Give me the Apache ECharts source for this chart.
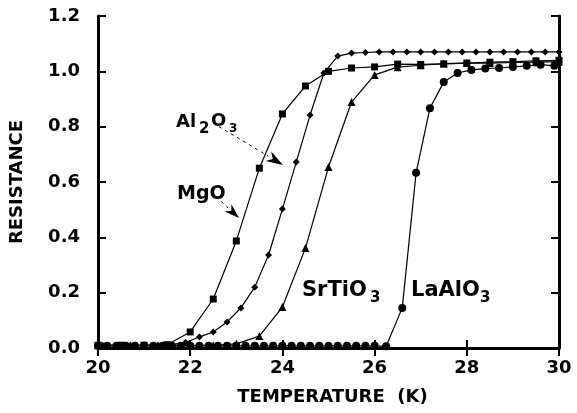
<!DOCTYPE html>
<html>
<head>
<meta charset="utf-8">
<script src="https://cdn.jsdelivr.net/npm/echarts@6/dist/echarts.min.js"></script>
<style>
html,body{margin:0;padding:0;background:#fff;}
#chart{width:577px;height:413px;}
</style>
</head>
<body>
<div id="chart"></div>
<script>
// ---- data ----
const xTicks = [20, 22, 24, 26, 28, 30];
const yTicks = [0.0, 0.2, 0.4, 0.6, 0.8, 1.0, 1.2];

// Squares (Al2O3 / MgO curve)
const sqT = [20.0, 20.5, 21.0, 21.5, 22.0, 22.5, 23.0, 23.5, 24.0, 24.5, 25.0, 25.5, 26.0, 26.5, 27.0, 27.5, 28.0, 28.5, 29.0, 29.5, 30.0];
const sqR = [0.010, 0.010, 0.010, 0.012, 0.058, 0.177, 0.387, 0.650, 0.846, 0.947, 1.000, 1.012, 1.016, 1.026, 1.025, 1.027, 1.030, 1.033, 1.035, 1.038, 1.040];

// Diamonds
const diT = [20.1, 20.4, 20.7, 21.0, 21.3, 21.6, 21.9, 22.2, 22.5, 22.8, 23.1, 23.4, 23.7, 24.0, 24.3, 24.6, 24.9, 25.2, 25.5, 25.8, 26.1, 26.4, 26.7, 27.0, 27.3, 27.6, 27.9, 28.2, 28.5, 28.8, 29.1, 29.4, 29.7, 30.0];
const diR = [0.010, 0.010, 0.010, 0.010, 0.010, 0.012, 0.020, 0.040, 0.058, 0.094, 0.145, 0.220, 0.336, 0.502, 0.672, 0.842, 0.994, 1.055, 1.066, 1.068, 1.070, 1.070, 1.070, 1.070, 1.070, 1.070, 1.070, 1.070, 1.070, 1.070, 1.070, 1.070, 1.070, 1.070];

// Triangles (SrTiO3)
const trT = [20.0, 20.5, 21.0, 21.5, 22.0, 22.5, 23.0, 23.5, 24.0, 24.5, 25.0, 25.5, 26.0, 26.5, 27.0, 27.5, 28.0, 28.5, 29.0, 29.5, 30.0];
const trR = [0.010, 0.010, 0.010, 0.010, 0.010, 0.010, 0.015, 0.043, 0.148, 0.361, 0.654, 0.889, 0.987, 1.015, 1.022, 1.028, 1.030, 1.030, 1.032, 1.033, 1.035];

// Circles (LaAlO3)
const ciT = [20.0, 20.2, 20.4, 20.6, 20.8, 21.0, 21.2, 21.4, 21.6, 21.8, 22.0, 22.2, 22.4, 22.6, 22.8, 23.0, 23.2, 23.4, 23.6, 23.8, 24.0, 24.2, 24.4, 24.6, 24.8, 25.0, 25.2, 25.4, 25.6, 25.8, 26.0, 26.25, 26.6, 26.9, 27.2, 27.5, 27.8, 28.1, 28.4, 28.7, 29.0, 29.3, 29.6, 29.9];
const ciR = [0.008, 0.008, 0.008, 0.008, 0.008, 0.008, 0.008, 0.008, 0.008, 0.008, 0.008, 0.008, 0.008, 0.008, 0.008, 0.008, 0.008, 0.008, 0.008, 0.008, 0.008, 0.008, 0.008, 0.008, 0.008, 0.008, 0.008, 0.008, 0.008, 0.008, 0.008, 0.006, 0.145, 0.633, 0.867, 0.961, 0.994, 1.005, 1.010, 1.012, 1.016, 1.020, 1.024, 1.020];

const FONT = '"DejaVu Sans", sans-serif';
const pairs = (t, r) => t.map((v, i) => [v, r[i]]);

const chart = echarts.init(document.getElementById('chart'), null, {renderer: 'canvas'});

function lineSeries(name, t, r, symbol, size) {
  return {
    name: name, type: 'line', data: pairs(t, r),
    xAxisIndex: 0, yAxisIndex: 0,
    symbol: symbol, symbolSize: size, showSymbol: true,
    lineStyle: {color: '#000', width: 1.2},
    itemStyle: {color: '#000', borderWidth: 0},
    animation: false, clip: false, z: 3
  };
}

const axisCommon = {
  type: 'value',
  axisLine: {show: true, lineStyle: {color: '#000', width: 3}},
  axisTick: {show: true, inside: true, length: 8, lineStyle: {color: '#000', width: 2}},
  splitLine: {show: false}
};

chart.setOption({
  backgroundColor: '#fff',
  animation: false,
  grid: {left: 97, right: 18, top: 16, bottom: 65, containLabel: false},
  xAxis: [
    Object.assign({}, axisCommon, {
      position: 'bottom', min: xTicks[0], max: xTicks[xTicks.length - 1], interval: 2,
      axisLabel: {show: true, margin: 11, color: '#000', fontFamily: FONT, fontWeight: 'bold', fontSize: 18},
      name: 'TEMPERATURE  (K)', nameLocation: 'middle', nameGap: 40,
      nameTextStyle: {color: '#000', fontFamily: FONT, fontWeight: 'bold', fontSize: 18, padding: [0, 0, 0, 8]}
    }),
    Object.assign({}, axisCommon, {
      position: 'top', min: xTicks[0], max: xTicks[xTicks.length - 1], interval: 2,
      axisLine: {show: true, lineStyle: {color: '#000', width: 2}},
      axisLabel: {show: false}
    })
  ],
  yAxis: [
    Object.assign({}, axisCommon, {
      position: 'left', min: yTicks[0], max: yTicks[yTicks.length - 1], interval: 0.2,
      axisLabel: {show: true, margin: 18, color: '#000', fontFamily: FONT, fontWeight: 'bold', fontSize: 18,
        formatter: v => v.toFixed(1)},
      name: 'RESISTANCE', nameLocation: 'middle', nameGap: 72, nameRotate: 90,
      nameTextStyle: {color: '#000', fontFamily: FONT, fontWeight: 'bold', fontSize: 18}
    }),
    Object.assign({}, axisCommon, {
      position: 'right', min: yTicks[0], max: yTicks[yTicks.length - 1], interval: 0.2,
      axisLabel: {show: false}
    })
  ],
  series: [
    lineSeries('Al2O3', sqT, sqR, 'rect', 7),
    lineSeries('diamond', diT, diR, 'diamond', 7),
    lineSeries('SrTiO3', trT, trR, 'triangle', 8),
    lineSeries('LaAlO3', ciT, ciR, 'circle', 8)
  ]
});

// ---- annotations (text labels and arrows) ----
function txt(x, y, s, size) {
  return {type: 'text', x: x, y: y, z: 10,
    style: {text: s, fill: '#000', font: 'bold ' + size + 'px ' + FONT, textVerticalAlign: 'alphabetic', textAlign: 'left'}};
}
function arrow(x0, y0, x1, y1, len, wid) {
  const dx = x1 - x0, dy = y1 - y0, L = Math.hypot(dx, dy);
  const ux = dx / L, uy = dy / L, px = -uy, py = ux;
  const bx = x1 - ux * len, by = y1 - uy * len;
  return [
    {type: 'line', z: 10, shape: {x1: x0, y1: y0, x2: bx, y2: by},
      style: {stroke: '#000', lineWidth: 1, lineDash: [3, 4]}},
    {type: 'polygon', z: 10, shape: {points: [[x1, y1], [bx + px * wid / 2, by + py * wid / 2], [x1 - ux * len * 0.7, y1 - uy * len * 0.7], [bx - px * wid / 2, by - py * wid / 2]]},
      style: {fill: '#000'}}
  ];
}

chart.setOption({
  graphic: [
    txt(176, 113, 'Al', 18), txt(199, 122, '2', 15), txt(211, 112, 'O', 18), txt(229, 123, '3', 12),
    txt(177, 185, 'MgO', 19),
    txt(302, 280, 'SrTiO', 21), txt(370, 291, '3', 15),
    txt(411, 280, 'LaAlO', 21), txt(480, 291, '3', 15)
  ].concat(arrow(213, 123, 283, 165, 17, 11)).concat(arrow(211, 192, 239, 218, 15, 10))
});
</script>
</body>
</html>
